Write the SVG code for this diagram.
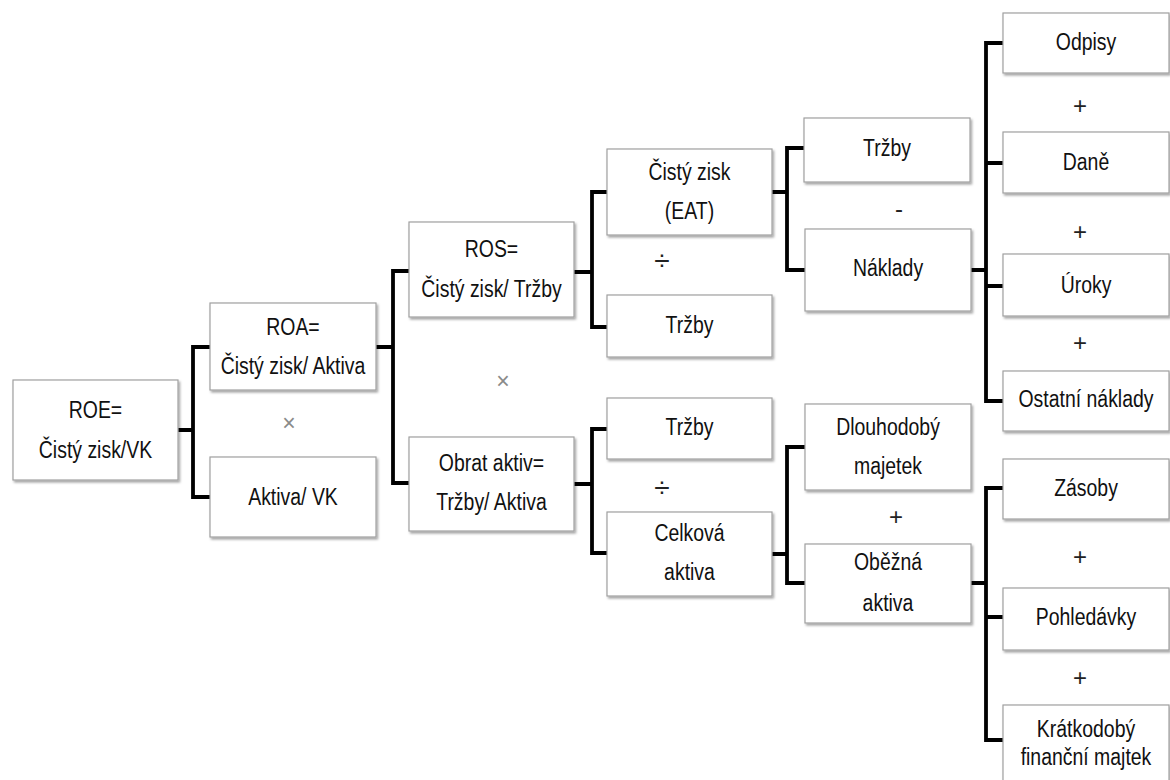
<svg xmlns="http://www.w3.org/2000/svg" width="1170" height="780" viewBox="0 0 1170 780">
<style>
.box{fill:#ffffff;stroke:#a0a0a0;stroke-width:1.2;filter:url(#sh)}
.t{font-family:"Liberation Sans",Arial,sans-serif;font-size:24px;fill:#111;text-anchor:middle}
.op{font-family:"Liberation Sans",Arial,sans-serif;font-size:24px;fill:#222;text-anchor:middle}
.dv{font-family:"Liberation Sans",Arial,sans-serif;font-size:28px;fill:#222;text-anchor:middle}
.opg{font-family:"Liberation Sans",Arial,sans-serif;font-size:23px;fill:#8a8a8a;text-anchor:middle}
.c{fill:none;stroke:#000;stroke-width:3.8;stroke-linecap:square;stroke-linejoin:miter}
</style>
<defs>
<filter id="sh" x="-10%" y="-10%" width="130%" height="140%">
<feDropShadow dx="1.5" dy="2" stdDeviation="1.2" flood-color="#000" flood-opacity="0.35"/>
</filter>
</defs>
<rect width="1170" height="780" fill="#ffffff"/>
<g id="connectors">
<path class="c" d="M178,430H193M193,347V497M193,347H210M193,497H210"/>
<path class="c" d="M376,347H393M393,271V483M393,271H409M393,483H409"/>
<path class="c" d="M574,272H592M592,192V327M592,192H607M592,327H607"/>
<path class="c" d="M574,484H592M592,429V553M592,429H607M592,553H607"/>
<path class="c" d="M772,192H787M787,148V270M787,148H804M787,270H805"/>
<path class="c" d="M971,270H986M986,43V401M986,43H1003M986,163H1003M986,286H1003M986,401H1003"/>
<path class="c" d="M772,554H787M787,447V583M787,447H805M787,583H805"/>
<path class="c" d="M971,583H986M986,488V740M986,488H1003M986,617H1003M986,740H1003"/>
</g>
<g id="roe"><rect class="box" x="13" y="380" width="165" height="100"/>
<text class="t" transform="translate(95.5,418) scale(0.81,1)">ROE=</text>
<text class="t" transform="translate(95.5,458) scale(0.81,1)">Čistý zisk/VK</text></g>
<g id="roa"><rect class="box" x="210" y="303" width="166" height="87"/>
<text class="t" transform="translate(293,335) scale(0.81,1)">ROA=</text>
<text class="t" transform="translate(293,374) scale(0.81,1)">Čistý zisk/ Aktiva</text></g>
<g id="aktiva-vk"><rect class="box" x="210" y="457" width="166" height="80"/>
<text class="t" transform="translate(293,505) scale(0.81,1)">Aktiva/ VK</text></g>
<g id="ros"><rect class="box" x="409" y="222" width="165" height="95"/>
<text class="t" transform="translate(491.5,257) scale(0.81,1)">ROS=</text>
<text class="t" transform="translate(491.5,297) scale(0.81,1)">Čistý zisk/ Tržby</text></g>
<g id="obrat"><rect class="box" x="409" y="437" width="165" height="94"/>
<text class="t" transform="translate(491.5,471) scale(0.81,1)">Obrat aktiv=</text>
<text class="t" transform="translate(491.5,510) scale(0.81,1)">Tržby/ Aktiva</text></g>
<g id="eat"><rect class="box" x="607" y="149" width="165" height="86"/>
<text class="t" transform="translate(689.5,180) scale(0.81,1)">Čistý zisk</text>
<text class="t" transform="translate(689.5,219) scale(0.81,1)">(EAT)</text></g>
<g id="trzby-ros"><rect class="box" x="607" y="295" width="165" height="62"/>
<text class="t" transform="translate(689.5,333) scale(0.81,1)">Tržby</text></g>
<g id="trzby-obrat"><rect class="box" x="607" y="398" width="165" height="61"/>
<text class="t" transform="translate(689.5,435) scale(0.81,1)">Tržby</text></g>
<g id="celkova"><rect class="box" x="607" y="512" width="165" height="84"/>
<text class="t" transform="translate(689.5,541) scale(0.81,1)">Celková</text>
<text class="t" transform="translate(689.5,580) scale(0.81,1)">aktiva</text></g>
<g id="trzby-eat"><rect class="box" x="804" y="118" width="166" height="64"/>
<text class="t" transform="translate(887,156) scale(0.81,1)">Tržby</text></g>
<g id="naklady"><rect class="box" x="805" y="229" width="166" height="82"/>
<text class="t" transform="translate(888,276) scale(0.81,1)">Náklady</text></g>
<g id="dlouhodoby"><rect class="box" x="805" y="404" width="166" height="86"/>
<text class="t" transform="translate(888,435) scale(0.81,1)">Dlouhodobý</text>
<text class="t" transform="translate(888,474) scale(0.81,1)">majetek</text></g>
<g id="obezna"><rect class="box" x="805" y="544" width="166" height="79"/>
<text class="t" transform="translate(888,570) scale(0.81,1)">Oběžná</text>
<text class="t" transform="translate(888,611) scale(0.81,1)">aktiva</text></g>
<g id="odpisy"><rect class="box" x="1003" y="13" width="166" height="60"/>
<text class="t" transform="translate(1086,50) scale(0.81,1)">Odpisy</text></g>
<g id="dane"><rect class="box" x="1003" y="132" width="166" height="61"/>
<text class="t" transform="translate(1086,170) scale(0.81,1)">Daně</text></g>
<g id="uroky"><rect class="box" x="1003" y="254" width="166" height="62"/>
<text class="t" transform="translate(1086,293) scale(0.81,1)">Úroky</text></g>
<g id="ostatni"><rect class="box" x="1003" y="371" width="166" height="60"/>
<text class="t" transform="translate(1086,407) scale(0.81,1)">Ostatní náklady</text></g>
<g id="zasoby"><rect class="box" x="1003" y="459" width="166" height="60"/>
<text class="t" transform="translate(1086,496) scale(0.81,1)">Zásoby</text></g>
<g id="pohledavky"><rect class="box" x="1003" y="588" width="166" height="62"/>
<text class="t" transform="translate(1086,625) scale(0.81,1)">Pohledávky</text></g>
<g id="kratkodoby"><rect class="box" x="1003" y="705" width="166" height="82"/>
<text class="t" transform="translate(1086,737) scale(0.81,1)">Krátkodobý</text>
<text class="t" transform="translate(1086,765) scale(0.81,1)">finanční majtek</text></g>
<g id="operators">
<text class="opg" x="289" y="431">×</text>
<text class="opg" x="503" y="389">×</text>
<text class="dv" x="662" y="270">÷</text>
<text class="dv" x="662" y="497">÷</text>
<text class="op" x="899" y="217">-</text>
<text class="op" x="896" y="525">+</text>
<text class="op" x="1080" y="114">+</text>
<text class="op" x="1080" y="240">+</text>
<text class="op" x="1080" y="351">+</text>
<text class="op" x="1080" y="565">+</text>
<text class="op" x="1080" y="686">+</text>
</g>
</svg>
